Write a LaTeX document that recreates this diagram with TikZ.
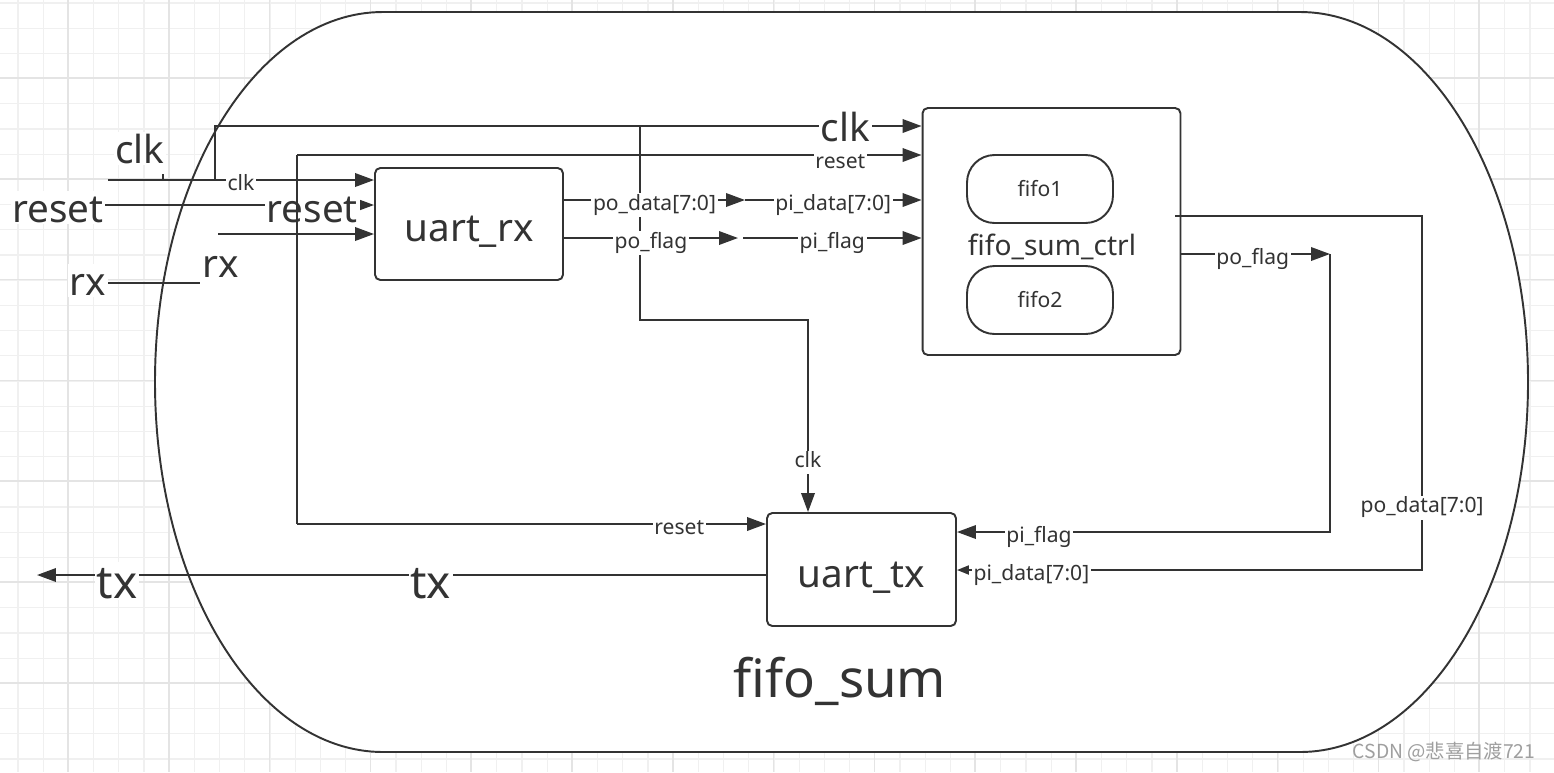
\documentclass[tikz,border=0pt]{standalone}
\usepackage{fontspec}
\setmainfont{Noto Sans}
\newfontfamily\cjk{Noto Sans CJK SC}
\usetikzlibrary{arrows.meta}
\definecolor{wirecol}{HTML}{333333}
\definecolor{gridmin}{HTML}{F0F0F0}
\definecolor{gridmaj}{HTML}{E4E4E4}

\begin{document}
\begin{tikzpicture}[x=0.02cm,y=-0.02cm,
    wire/.style={draw=wirecol,line width=1.1pt},
    arr/.style={wire,-{Triangle[length=0.38cm,width=0.27cm]}},
    sarr/.style={wire,-{Triangle[length=0.24cm,width=0.18cm]}},
    blk/.style={draw=wirecol,line width=1.1pt,rounded corners=3pt,fill=white,text=wirecol,
        text height=22pt,text depth=2pt,font=\fontsize{22}{26}\selectfont},
    pill/.style={draw=wirecol,line width=1.1pt,rounded corners=0.55cm,minimum width=2.92cm,minimum height=1.36cm,text=wirecol,font=\fontsize{12}{14}\selectfont},
    lbl/.style={fill=white,inner sep=1pt,text=wirecol,text height=8.4pt,text depth=3pt,anchor=base,yshift=-0.2cm,font=\fontsize{12}{14}\selectfont},
    pinlbl/.style={fill=white,inner sep=1pt,text=wirecol,text height=16.5pt,text depth=0pt,anchor=base,font=\fontsize{22}{26}\selectfont},
    big/.style={pinlbl,yshift=-0.34cm},
    huge/.style={pinlbl,text height=19.5pt,yshift=-0.46cm,font=\fontsize{26}{30}\selectfont}]
    \useasboundingbox (0,0) rectangle (1554,772);
    \fill[white] (0,0) rectangle (1554,772);
    \foreach \k in {0,...,61} \draw[gridmin,line width=0.6pt] ({18+25.2*\k},0) -- ++(0,772);
    \foreach \k in {0,...,30} \draw[gridmin,line width=0.6pt] (0,{3+25.2*\k}) -- ++(1554,0);
    \foreach \k in {0,...,14} \draw[gridmaj,line width=0.9pt] ({68+100.8*\k},0) -- ++(0,772);
    \foreach \k in {0,...,6} \draw[gridmaj,line width=0.9pt] (0,{78+100.8*\k}) -- ++(1554,0);
    \draw[wire,fill=white] (383,12) -- (1300,12) arc[start angle=-90,end angle=90,x radius=228,y radius=370]
        -- (383,752) arc[start angle=90,end angle=270,x radius=228,y radius=370] -- cycle;

    \node[blk,minimum width=3.76cm,minimum height=2.24cm] (uartrx) at (469,224) {uart\_rx};
    \node[blk,minimum width=5.16cm,minimum height=4.94cm] (ctrl) at (1051.5,231.5) {};
    \node[blk,minimum width=3.78cm,minimum height=2.26cm] (uarttx) at (861.5,569.5) {uart\_tx};
    \node[pill] (fifoa) at (1040,189) {fifo1};
    \node[pill] (fifob) at (1040,300) {fifo2};
    \node[text=wirecol,font=\fontsize{16}{19}\selectfont] (ctrllbl) at (1052,247) {fifo\_sum\_ctrl};
    \node[text=wirecol,font=\fontsize{30}{34}\selectfont] (sumlbl) at (840,681) {fifo\_sum};

    \node[pinlbl] (clkname) at (140,163) {clk};
    \node[pinlbl] (rstname) at (58,222) {reset};
    \node[pinlbl] (rxname) at (88,295) {rx};
    \node[pinlbl] (rxname2) at (221,277) {rx};
    \node[text=gray!75,font=\cjk\fontsize{11}{13}\selectfont] (mark) at (1444,752) {CSDN @悲喜自渡721};

    \coordinate (clkin) at (108,180);
    \coordinate (clkj) at (215,180);
    \coordinate (clkt) at (640,126);
    \coordinate (clkb) at (808,320);
    \coordinate (rstin) at (105,205);
    \coordinate (rstt) at (297,155);
    \coordinate (rstb) at (297,524);
    \coordinate (rxend) at (200,283);
    \coordinate (rxin) at (218,234);
    \coordinate (pd) at (745,200);
    \coordinate (pf) at (738,238);
    \coordinate (pf2) at (743,238);
    \coordinate (cf) at (1330,254);
    \coordinate (cfb) at (1330,532);
    \coordinate (cdin) at (1175,216);
    \coordinate (cd) at (1422,216);
    \coordinate (cdb) at (1422,570);
    \coordinate (txout) at (37,575);

    \draw[arr] (clkt) |- (clkb) -- node[lbl,pos=0.715]{clk} (clkb |- uarttx.north);
    \draw[wire] (clkin -| 163,0) -- ++(0,-6);
    \draw[arr] (clkin) -- node[lbl]{clk} (clkin -| uartrx.west);
    \draw[arr] (clkj) |- node[big,pos=0.946,yshift=0.04cm]{clk} (ctrl.west |- clkt);
    \draw[arr] (rstin) -- node[big,pos=0.77]{reset} (rstin -| uartrx.west);
    \draw[wire] (rstt) -- (rstb);
    \draw[arr] (rstt) -- node[lbl,pos=0.87,yshift=-0.06cm]{reset} (rstt -| ctrl.west);
    \draw[arr] (rstb) -- node[lbl,pos=0.815]{reset} (rstb -| uarttx.west);
    \draw[wire] (rxname.east |- rxend) -- (rxend);
    \draw[arr] (rxin) -- (rxin -| uartrx.west);
    \draw[arr] (uartrx.east |- pd) -- node[lbl]{po\_data[7:0]} (pd);
    \draw[arr] (pd) -- node[lbl]{pi\_data[7:0]} (pd -| ctrl.west);
    \draw[arr] (uartrx.east |- pf) -- node[lbl]{po\_flag} (pf);
    \draw[arr] (pf2) -- node[lbl]{pi\_flag} (pf2 -| ctrl.west);
    \draw[arr] (ctrl.east |- cf) -- node[lbl,pos=0.48]{po\_flag} (cf);
    \draw[arr] (cf) -- (cfb) -- node[lbl,pos=0.78]{pi\_flag} (cfb -| uarttx.east);
    \draw[sarr] (cdin) -- (cd) -- node[lbl,pos=0.81]{po\_data[7:0]} (cdb) -- node[lbl,pos=0.84]{pi\_data[7:0]} (cdb -| uarttx.east);
    \draw[arr] (uarttx.west |- txout) -- node[huge,pos=0.46]{tx} node[huge,pos=0.89]{tx} (txout);
\end{tikzpicture}
\end{document}
